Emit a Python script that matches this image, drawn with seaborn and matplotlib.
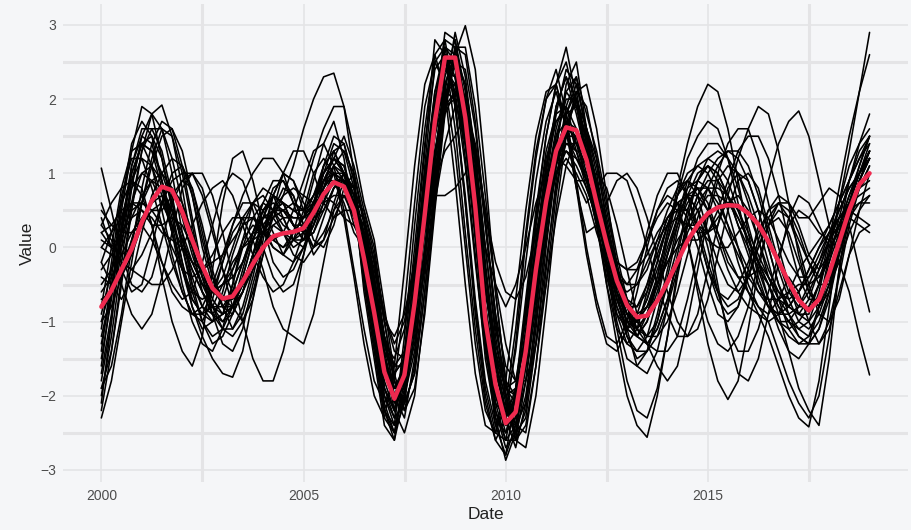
import numpy as np
import pandas as pd
import matplotlib
matplotlib.use("Agg")
import matplotlib.pyplot as plt
import matplotlib.dates as mdates
import seaborn as sns

# Quarterly observation dates
dates = pd.date_range("2000-01-01", "2019-01-01", freq="QS")

# Individual series (one value per quarter)
s01 = [-2.0, -1.2, -0.2, 0.8, 1.5, 1.8, 1.6, 1.0, 0.2, -0.5, -1.0, -1.3, -1.2, -0.9, -0.4, 0.1, 0.5, 0.7, 0.6, 0.3,
       0.2, 0.5, 1.0, 1.4, 1.3, 0.8, -0.3, -1.1, -2.0, -2.4, -2.0, -0.9, 0.6, 1.9, 2.8, 2.7, 1.8, 0.4, -1.2, -2.2,
       -2.7, -2.5, -1.6, -0.4, 0.8, 1.6, 2.1, 1.9, 1.5, 0.7, -0.2, -1.0, -1.5, -1.6, -1.4, -0.9, -0.3, 0.3, 0.8, 1.2,
       1.4, 1.4, 1.2, 0.8, 0.3, -0.2, -0.7, -1.1, -1.4, -1.5, -1.3, -0.8, -0.1, 0.6, 1.3, 2.1, 2.9]
s02 = [-1.6, -0.6, 0.5, 1.3, 1.9, 1.8, 1.2, 0.5, -0.2, -0.8, -1.1, -1.0, -0.6, -0.1, 0.3, 0.6, 0.7, 0.5, 0.3, 0.2,
       0.4, 0.9, 1.4, 1.7, 1.2, 0.4, 0.2, -0.9, -2.2, -2.4, -1.2, 0.3, 1.6, 2.6, 2.8, 2.0, 0.6, -0.9, -2.0, -2.6,
       -2.3, -1.3, 0.1, 1.2, 2.0, 2.4, 1.8, 0.9, 0.6, 0.8, 1.0, 1.0, 0.9, 0.5, 0.0, -0.5, -0.9, -1.2, -1.2, -0.9,
       -0.3, 0.3, 0.8, 1.0, 0.9, 0.5, 0.0, -0.5, -0.8, -0.9, -0.7, -0.3, 0.1, 0.4, 0.6, 0.7, 0.8]
s03 = [-2.3, -1.8, -1.0, -0.2, 0.6, 1.2, 1.6, 1.5, 1.0, 0.3, -0.4, -0.9, -1.3, -1.4, -1.1, -0.5, 0.0, 0.4, 0.5, 0.6,
       0.5, 0.6, 0.9, 1.2, 1.5, 1.1, 0.5, 0.0, -1.0, -1.8, -2.2, -1.6, -0.4, 0.9, 2.1, 2.9, 2.3, 1.2, -0.2, -1.4,
       -2.1, -2.6, -2.2, -1.1, 0.2, 1.3, 2.2, 2.5, 1.6, 1.1, 0.4, -0.3, -0.8, -1.1, -1.3, -1.4, -1.4, -1.2, -0.7, -0.1,
       0.5, 1.0, 1.4, 1.6, 1.6, 1.2, 0.6, 0.0, -0.5, -0.9, -1.0, -0.8, -0.4, 0.1, 0.6, 1.0, 1.4]
s04 = [0.1, 0.0, 0.2, 0.4, 0.5, 0.4, 0.2, 0.1, 0.0, -0.2, -0.3, -0.2, -0.1, 0.1, 0.3, 0.4, 0.3, 0.1, 0.0, 0.2,
       0.4, 0.6, 0.7, 0.6, 0.4, 0.3, 0.1, -0.6, -1.4, -1.7, -1.5, -0.7, 0.3, 1.3, 2.1, 2.2, 1.5, 0.5, -0.8, -1.6,
       -2.0, -1.9, -1.2, -0.3, 0.6, 1.2, 1.4, 1.3, 0.8, 0.4, 0.1, -0.2, -0.3, -0.3, -0.1, 0.2, 0.4, 0.5, 0.5, 0.3,
       0.1, 0.0, 0.0, 0.2, 0.4, 0.5, 0.4, 0.1, -0.2, -0.4, -0.4, -0.2, 0.1, 0.3, 0.4, 0.3, 0.2]
s05 = [1.07, 0.5, -0.1, -0.5, -0.6, -0.4, 0.1, 0.6, 0.9, 0.8, 0.3, -0.3, -0.8, -1.1, -0.9, -0.4, 0.2, 0.7, 1.0, 0.9,
       0.5, 0.1, 0.0, 0.3, 0.8, 1.0, 0.3, -0.3, -1.0, -1.2, -0.9, -0.2, 0.8, 1.8, 2.4, 2.3, 1.6, 0.7, -0.5, -1.4,
       -1.9, -2.0, -1.5, -0.6, 0.4, 1.1, 1.5, 1.5, 0.9, 0.5, 0.1, -0.3, -0.5, -0.5, -0.3, 0.1, 0.5, 0.8, 0.9, 0.7,
       0.2, -0.5, -1.2, -1.7, -1.8, -1.5, -0.9, -0.2, 0.4, 0.7, 0.6, 0.3, 0.0, 0.2, 0.5, 0.8, 1.0]
s06 = [0.4, 0.0, -0.5, -0.9, -1.1, -0.9, -0.4, 0.2, 0.8, 1.0, 0.8, 0.3, -0.3, -0.8, -1.0, -0.7, -0.1, 0.5, 0.8, 0.7,
       0.3, -0.1, 0.1, 0.6, 1.0, 0.8, 0.4, -0.2, -0.9, -1.3, -1.0, -0.2, 0.5, 0.7, 0.7, 0.8, 1.0, 1.4, 0.3, -0.9,
       -1.6, -1.8, -1.0, 0.1, 0.9, 1.4, 1.5, 1.2, 1.0, 0.3, -0.5, -1.1, -1.3, -1.1, -0.6, 0.0, 0.4, 0.6, 0.4, 0.0,
       -0.5, -0.9, -1.0, -0.8, -0.3, 0.3, 0.9, 1.4, 1.7, 1.84, 1.5, 0.9, 0.3, -0.2, -0.6, -1.2, -1.72]
s07 = [-0.5, -0.3, 0.0, 0.4, 0.7, 0.9, 0.8, 0.5, 0.1, -0.2, -0.5, -0.6, -0.5, -0.3, 0.0, 0.2, 0.2, 0.1, 0.0, 0.1,
       0.3, 0.5, 0.8, 1.0, 0.9, 0.5, -0.2, -0.9, -1.7, -2.1, -1.8, -0.8, 0.5, 1.7, 2.5, 2.5, 1.7, 0.5, -1.0, -1.9,
       -2.4, -2.2, -1.4, -0.2, 0.7, 1.3, 1.6, 1.5, 1.0, 0.4, -0.2, -0.7, -1.0, -1.1, -0.9, -0.5, -0.1, 0.3, 0.6, 0.8,
       0.8, 0.6, 0.3, 0.0, -0.3, -0.6, -0.8, -0.9, -0.9, -0.8, -0.6, -0.3, 0.1, 0.5, 0.8, 1.0, 1.2]
s08 = [-0.3, -0.1, 0.2, 0.5, 0.6, 0.5, 0.5, 0.7, 0.9, 1.0, 1.0, 0.7, 0.2, -0.4, -1.0, -1.5, -1.8, -1.8, -1.4, -0.8,
       -0.1, 0.6, 1.1, 1.3, 1.0, 0.4, -0.1, -1.0, -1.9, -2.2, -1.5, -0.3, 1.0, 2.1, 2.5, 2.1, 1.1, -0.2, -1.4, -2.1,
       -2.3, -1.9, -0.9, 0.3, 1.3, 1.8, 1.9, 1.4, 1.1, 0.6, 0.0, -0.4, -0.5, -0.3, 0.1, 0.5, 0.7, 0.6, 0.1, -0.6,
       -1.3, -1.8, -2.05, -1.8, -1.1, -0.3, 0.3, 0.6, 0.6, 0.3, -0.1, -0.3, -0.1, 0.3, 0.7, 1.1, 1.5]
s09 = [-0.2, 0.2, 0.6, 0.9, 0.8, 0.3, -0.4, -1.0, -1.4, -1.6, -1.2, -0.3, 0.6, 1.2, 1.3, 0.9, 0.3, -0.2, -0.4, -0.3,
       0.0, 0.4, 0.9, 1.2, 1.0, 0.5, 0.3, -0.4, -1.3, -1.9, -1.9, -1.3, -0.2, 1.0, 2.0, 2.5, 2.2, 1.3, 0.0, -1.2,
       -2.0, -2.4, -2.1, -1.3, -0.2, 0.8, 1.6, 2.0, 1.6, 1.2, 0.5, -0.2, -0.8, -1.2, -1.3, -1.1, -0.7, -0.2, 0.3, 0.7,
       1.0, 1.2, 1.3, 1.2, 0.9, 0.5, 0.0, -0.5, -0.9, -1.2, -1.3, -1.3, -1.1, -0.6, -0.1, 0.2, 0.3]
s10 = [-1.3, -0.6, 0.3, 1.0, 1.4, 1.3, 0.8, 0.2, -0.3, -0.8, -1.2, -1.5, -1.7, -1.75, -1.4, -0.7, 0.1, 0.7, 1.0, 0.9,
       0.6, 0.4, 0.5, 0.8, 1.0, 0.7, -0.6, -1.5, -2.4, -2.6, -1.6, -0.2, 1.3, 2.8, 2.6, 1.6, 0.2, -1.1, -2.1, -2.6,
       -2.8, -2.0, -0.8, 0.4, 1.5, 2.2, 2.7, 2.0, 1.3, 0.7, 0.0, -0.6, -1.0, -1.0, -0.7, -0.2, 0.3, 0.7, 0.9, 0.8,
       0.5, 0.1, -0.3, -0.6, -0.8, -0.9, -1.2, -1.6, -2.0, -2.3, -2.42, -1.8, -0.8, 0.2, 0.9, 1.3, 1.5]
s11 = [-1.0, -0.5, 0.1, 0.6, 1.0, 1.1, 0.9, 0.4, -0.2, -0.7, -0.9, -0.8, -0.5, -0.2, 0.0, 0.1, 0.2, 0.4, 0.7, 1.1,
       1.6, 2.0, 2.3, 2.35, 1.9, 1.0, -0.3, -1.0, -1.8, -2.2, -1.7, -0.6, 0.7, 1.8, 2.4, 2.3, 1.5, 0.3, -1.1, -2.0,
       -2.5, -2.3, -1.3, 0.0, 0.9, 1.5, 1.7, 1.4, 1.4, 0.8, 0.1, -0.5, -0.9, -1.0, -0.8, -0.4, 0.2, 0.8, 1.4, 1.9,
       2.2, 2.1, 1.6, 0.9, 0.2, -0.4, -0.8, -1.0, -1.0, -0.8, -0.5, -0.2, 0.2, 0.5, 0.8, 1.0, 1.2]
s12 = [-1.8, -1.0, 0.0, 0.9, 1.4, 1.5, 1.2, 0.6, 0.0, -0.5, -0.8, -0.9, -0.7, -0.3, 0.1, 0.3, 0.2, 0.0, -0.1, 0.2,
       0.7, 1.2, 1.6, 1.9, 1.9, 1.3, 0.6, 0.1, -0.8, -1.7, -2.2, -1.9, -0.9, 0.5, 1.8, 2.6, 2.99, 2.4, 1.0, -0.6,
       -1.8, -2.4, -2.5, -1.6, -0.3, 0.9, 1.8, 2.2, 1.6, 0.8, 0.0, -0.6, -0.9, -1.0, -0.8, -0.5, -0.2, 0.1, 0.3, 0.3,
       0.2, 0.3, 0.7, 1.2, 1.6, 1.9, 1.8, 1.3, 0.6, -0.1, -0.6, -0.8, -0.5, 0.1, 0.6, 1.0, 1.3]
s13 = [0.3, 0.1, -0.2, -0.3, -0.1, 0.2, 0.6, 0.9, 1.0, 1.0, 0.7, 0.2, -0.3, -0.6, -0.5, -0.1, 0.4, 0.8, 0.9, 0.7,
       0.3, 0.0, 0.1, 0.4, 0.7, 0.6, 0.0, -0.7, -1.5, -1.9, -1.6, -0.6, 0.6, 1.6, 2.2, 2.2, 1.6, 0.8, 0.0, -0.5,
       -0.8, -0.5, 0.0, 0.6, 1.0, 1.2, 1.1, 0.9, 0.9, 0.3, -0.4, -0.9, -1.1, -0.9, -0.5, 0.0, 0.4, 0.6, 0.5, 0.2,
       -0.3, -0.7, -0.9, -0.8, -0.4, 0.1, 0.5, 0.7, 0.6, 0.4, 0.4, 0.6, 0.8, 0.7, 0.3, -0.3, -0.87]
s14 = [-1.4, -0.4, 0.6, 1.4, 1.7, 1.5, 0.9, 0.3, -0.3, -0.7, -0.9, -1.0, -0.9, -0.6, -0.2, 0.2, 0.5, 0.6, 0.5, 0.3,
       0.1, 0.3, 0.8, 1.3, 1.4, 0.9, -0.4, -1.3, -2.2, -2.6, -2.0, -0.7, 0.7, 1.9, 2.6, 2.4, 1.4, 0.1, -1.3, -2.3,
       -2.87, -2.5, -1.5, -0.2, 1.0, 1.9, 2.3, 2.0, 1.2, 0.4, -0.5, -1.3, -2.0, -2.4, -2.56, -2.0, -1.2, -0.3, 0.4, 0.9,
       1.1, 1.0, 0.7, 0.3, 0.0, -0.2, -0.4, -0.6, -0.8, -0.9, -0.9, -0.5, 0.1, 0.8, 1.5, 2.1, 2.6]
s15 = [0.0, 0.2, 0.4, 0.6, 0.6, 0.5, 0.3, 0.0, -0.3, -0.4, -0.3, -0.1, 0.2, 0.4, 0.4, 0.1, -0.3, -0.8, -1.1, -1.2,
       -1.3, -0.9, -0.2, 0.5, 0.9, 0.8, 0.2, -0.4, -1.2, -1.6, -1.6, -1.0, 0.0, 1.0, 1.8, 2.1, 1.8, 0.9, -0.3, -1.3,
       -1.9, -2.1, -1.6, -0.7, 0.3, 1.0, 1.4, 1.4, 0.9, 1.0, 0.8, 0.3, -0.3, -0.9, -1.3, -1.6, -1.8, -1.6, -1.0, -0.3,
       0.4, 0.9, 1.1, 1.0, 0.6, 0.1, -0.4, -0.7, -0.8, -0.6, -0.3, 0.0, 0.2, 0.4, 0.5, 0.6, 0.6]
s16 = [-0.6, -0.4, -0.1, 0.2, 0.3, 0.1, -0.2, -0.5, -0.7, -0.6, -0.2, 0.3, 0.8, 1.0, 0.9, 0.5, 0.0, -0.4, -0.6, -0.5,
       -0.1, 0.4, 0.9, 1.1, 0.9, 0.4, 0.1, -0.6, -1.3, -1.5, -1.1, -0.3, 0.6, 1.5, 2.1, 2.0, 1.4, 0.4, -0.8, -1.7,
       -2.2, -2.1, -1.4, -0.4, 0.6, 1.2, 1.5, 1.3, 1.3, 0.7, 0.1, -0.5, -0.9, -1.2, -1.3, -1.1, -0.7, -0.2, 0.3, 0.6,
       0.8, 0.8, 0.7, 0.5, 0.2, -0.1, -0.4, -0.7, -0.9, -1.1, -1.2, -1.0, -0.6, 0.0, 0.5, 0.9, 1.2]
s17 = [-1.9, -1.4, -0.5, 0.5, 1.3, 1.8, 1.92, 1.5, 0.8, 0.0, -0.6, -0.9, -1.0, -0.8, -0.5, -0.1, 0.3, 0.5, 0.5, 0.4,
       0.4, 0.7, 1.1, 1.3, 1.0, 0.5, -0.4, -1.3, -2.2, -2.5, -1.9, -0.7, 0.8, 2.1, 2.7, 2.5, 1.6, 0.2, -1.3, -2.4,
       -2.8, -2.4, -1.3, 0.0, 1.1, 1.9, 2.3, 1.8, 1.2, 0.6, -0.1, -0.7, -1.1, -1.2, -1.0, -0.6, -0.1, 0.4, 0.7, 0.8,
       0.6, 0.2, -0.2, -0.4, -0.4, -0.3, -0.5, -0.9, -1.4, -1.9, -2.2, -2.4, -1.5, -0.3, 0.6, 1.1, 1.5]
s18 = [-2.1, -1.0, 0.2, 1.1, 1.6, 1.6, 1.3, 0.7, 0.0, -0.6, -1.0, -1.2, -1.1, -0.8, -0.3, 0.2, 0.6, 0.9, 0.9, 0.6,
       0.5, 0.7, 1.0, 1.2, 1.0, 0.6, 0.0, -0.8, -1.7, -2.0, -1.6, -0.6, 0.7, 1.9, 2.4, 2.2, 1.4, 0.2, -1.2, -2.0,
       -2.3, -2.0, -1.1, 0.1, 1.1, 1.7, 1.9, 1.6, 1.3, 0.6, -0.2, -0.9, -1.3, -1.4, -1.2, -0.7, -0.1, 0.4, 0.9, 1.1,
       1.2, 1.1, 0.9, 0.5, 0.1, -0.3, -0.7, -1.0, -1.2, -1.3, -1.2, -0.8, -0.2, 0.4, 0.9, 1.4, 1.8]
s19 = [-0.9, -0.3, 0.4, 0.9, 1.2, 1.1, 0.7, 0.2, -0.3, -0.6, -0.7, -0.6, -0.5, -0.4, -0.2, 0.1, 0.4, 0.5, 0.4, 0.1,
       0.0, 0.3, 0.6, 0.9, 0.8, 0.3, 0.0, -0.7, -1.5, -1.9, -1.7, -0.9, 0.2, 1.2, 1.9, 2.0, 1.4, 0.6, -0.6, -1.5,
       -1.9, -1.8, -1.3, -0.5, 0.4, 1.0, 1.3, 1.2, 0.9, 0.3, -0.3, -0.8, -1.1, -1.0, -0.7, -0.3, 0.1, 0.5, 0.8, 0.9,
       0.8, 0.5, 0.2, -0.1, -0.4, -0.6, -0.7, -0.7, -0.6, -0.5, -0.5, -0.4, -0.1, 0.3, 0.6, 0.8, 0.9]
s20 = [0.5, 0.3, 0.2, 0.2, 0.4, 0.6, 0.8, 0.8, 0.6, 0.2, -0.3, -0.7, -0.9, -0.8, -0.4, 0.1, 0.5, 0.7, 0.6, 0.3,
       0.1, 0.2, 0.5, 0.8, 0.9, 0.6, 0.2, -0.5, -1.2, -1.6, -1.4, -0.7, 0.2, 0.9, 1.3, 1.5, 1.78, 1.2, 0.0, -1.1,
       -1.8, -2.0, -1.4, -0.4, 0.5, 1.0, 1.2, 1.0, 0.7, 0.2, -0.2, -0.5, -0.6, -0.5, -0.2, 0.1, 0.3, 0.4, 0.3, 0.2,
       0.2, 0.4, 0.6, 0.7, 0.5, 0.1, -0.3, -0.6, -0.7, -0.6, -0.4, -0.1, 0.2, 0.4, 0.5, 0.4, 0.3]
s21 = [-1.5, -0.7, 0.3, 1.1, 1.5, 1.4, 0.9, 0.2, -0.5, -1.0, -1.3, -1.4, -1.1, -0.5, 0.1, 0.6, 0.8, 0.7, 0.4, 0.1,
       0.1, 0.5, 1.1, 1.5, 1.4, 0.9, -0.3, -1.2, -2.1, -2.5, -2.1, -0.8, 0.5, 1.8, 2.7, 2.6, 1.6, 0.2, -1.3, -2.2,
       -2.6, -2.4, -1.6, -0.3, 0.9, 1.8, 2.4, 2.2, 1.6, 1.0, 0.2, -0.5, -1.0, -1.2, -1.0, -0.5, 0.1, 0.7, 1.2, 1.5,
       1.7, 1.6, 1.2, 0.6, 0.0, -0.5, -0.8, -0.9, -0.8, -0.6, -0.3, 0.0, 0.3, 0.6, 0.9, 1.2, 1.5]
s22 = [-0.2, -0.5, -0.7, -0.4, 0.2, 0.7, 1.0, 1.2, 1.1, 0.7, 0.1, -0.4, -0.7, -0.8, -0.6, -0.2, 0.2, 0.5, 0.6, 0.5,
       0.5, 0.7, 0.9, 0.9, 0.6, 0.2, 0.0, -1.0, -1.9, -2.2, -1.4, 0.0, 1.4, 2.4, 2.6, 1.9, 0.7, -0.7, -1.8, -2.4,
       -2.2, -1.4, -0.2, 0.9, 1.7, 2.1, 1.6, 0.8, 0.2, 0.3, 0.6, 0.9, 1.0, 0.8, 0.4, -0.1, -0.6, -1.0, -1.2, -1.1,
       -0.7, -0.1, 0.5, 0.9, 1.0, 0.8, 0.3, -0.2, -0.6, -0.8, -0.8, -0.5, -0.1, 0.3, 0.6, 0.8, 1.0]
s23 = [-2.2, -1.4, -0.4, 0.6, 1.3, 1.6, 1.6, 1.2, 0.6, 0.0, -0.4, -0.6, -0.7, -0.7, -0.5, -0.2, 0.2, 0.5, 0.6, 0.5,
       0.4, 0.6, 1.0, 1.2, 1.1, 0.6, -0.5, -1.4, -2.3, -2.5, -1.8, -0.4, 1.1, 2.5, 2.7, 1.9, 0.6, -0.8, -1.9, -2.5,
       -2.6, -1.9, -0.7, 0.5, 1.5, 2.2, 2.5, 1.9, 1.2, 0.5, -0.2, -0.8, -1.2, -1.4, -1.4, -1.2, -0.8, -0.3, 0.2, 0.5,
       0.7, 0.7, 0.6, 0.4, 0.1, -0.2, -0.5, -0.8, -1.0, -1.2, -1.3, -1.1, -0.7, -0.1, 0.4, 0.9, 1.3]
s24 = [0.2, 0.3, 0.5, 0.6, 0.5, 0.3, 0.3, 0.4, 0.3, 0.0, -0.4, -0.8, -1.0, -0.9, -0.6, -0.2, 0.2, 0.5, 0.7, 0.8,
       0.7, 0.6, 0.6, 0.7, 0.7, 0.4, 0.2, -0.5, -1.3, -1.7, -1.5, -0.8, 0.3, 1.3, 1.9, 2.1, 1.9, 1.3, 0.5, -0.2,
       -0.6, -0.7, -0.4, 0.2, 0.8, 1.2, 1.3, 1.1, 0.8, 0.4, 0.1, -0.2, -0.3, -0.2, 0.1, 0.4, 0.6, 0.5, 0.1, -0.5,
       -1.0, -1.3, -1.4, -1.2, -0.8, -0.2, 0.3, 0.5, 0.4, 0.1, -0.2, -0.4, -0.2, 0.2, 0.6, 1.0, 1.3]
s25 = [-1.2, -0.6, 0.2, 0.8, 1.0, 0.9, 0.6, 0.3, 0.0, -0.3, -0.6, -0.9, -1.1, -1.2, -1.0, -0.6, -0.1, 0.5, 1.0, 1.3,
       1.3, 1.0, 0.6, 0.4, 0.5, 0.5, 0.4, -0.2, -1.2, -2.0, -2.3, -1.5, -0.1, 1.2, 2.3, 2.8, 2.1, 0.9, -0.5, -1.6,
       -2.3, -2.7, -2.1, -0.9, 0.4, 1.4, 2.1, 2.3, 1.8, 1.3, 0.6, -0.1, -0.7, -1.1, -1.2, -1.0, -0.5, 0.0, 0.5, 0.9,
       1.2, 1.3, 1.2, 1.0, 0.7, 0.3, -0.2, -0.7, -1.1, -1.3, -1.3, -1.1, -0.6, 0.0, 0.4, 0.6, 0.7]
s26 = [-0.7, -0.6, -0.3, 0.1, 0.6, 1.1, 1.5, 1.6, 1.3, 0.7, 0.0, -0.5, -0.8, -0.8, -0.6, -0.3, 0.0, 0.3, 0.4, 0.4,
       0.4, 0.5, 0.7, 0.9, 0.9, 0.6, 0.2, -0.5, -1.4, -2.0, -2.0, -1.2, 0.0, 1.2, 2.2, 2.6, 2.0, 1.0, -0.3, -1.5,
       -2.2, -2.5, -2.0, -1.0, 0.1, 1.1, 1.8, 2.1, 1.4, 0.8, 0.1, -0.5, -0.9, -1.1, -0.9, -0.5, 0.0, 0.4, 0.7, 0.7,
       0.5, 0.2, -0.1, -0.4, -0.6, -0.8, -1.0, -1.4, -1.8, -2.1, -2.3, -2.0, -1.2, -0.3, 0.4, 0.9, 1.2]
s27 = [0.0, -0.1, -0.2, -0.3, -0.4, -0.5, -0.5, -0.3, 0.0, 0.3, 0.6, 0.8, 0.9, 0.7, 0.3, -0.1, -0.4, -0.6, -0.5, -0.2,
       0.2, 0.6, 0.9, 1.0, 0.8, 0.5, -0.1, -0.8, -1.6, -2.0, -1.9, -1.0, 0.3, 1.5, 2.4, 2.6, 1.9, 0.7, -0.8, -1.8,
       -2.4, -2.3, -1.6, -0.5, 0.6, 1.3, 1.7, 1.6, 1.2, 0.6, 0.0, -0.5, -0.8, -0.8, -0.5, -0.1, 0.3, 0.6, 0.7, 0.5,
       0.0, -0.6, -1.1, -1.4, -1.4, -1.1, -0.6, -0.1, 0.3, 0.5, 0.4, 0.2, 0.1, 0.3, 0.6, 1.0, 1.3]
s28 = [-1.7, -0.9, 0.2, 1.0, 1.4, 1.3, 1.0, 0.6, 0.1, -0.3, -0.6, -0.8, -0.8, -0.6, -0.2, 0.2, 0.4, 0.4, 0.2, 0.0,
       0.1, 0.4, 0.8, 1.1, 1.0, 0.5, -0.2, -1.0, -1.9, -2.3, -2.1, -1.1, 0.4, 1.8, 2.9, 2.8, 1.9, 0.6, -1.0, -2.1,
       -2.6, -2.6, -1.8, -0.6, 0.6, 1.5, 2.0, 2.0, 1.4, 0.6, -0.3, -1.1, -1.8, -2.2, -2.3, -1.9, -1.2, -0.4, 0.3, 0.7,
       0.9, 0.9, 0.7, 0.4, 0.1, -0.2, -0.5, -0.8, -1.0, -1.1, -1.0, -0.6, 0.0, 0.6, 1.1, 1.4, 1.6]
s29 = [0.3, 0.6, 0.8, 0.9, 0.7, 0.3, -0.2, -0.6, -0.8, -0.9, -0.8, -0.5, -0.1, 0.3, 0.7, 1.0, 1.2, 1.2, 1.0, 0.6,
       0.2, 0.0, 0.2, 0.5, 0.7, 0.6, 0.5, -0.1, -1.0, -1.8, -2.1, -1.7, -0.6, 0.8, 2.0, 2.7, 2.6, 1.7, 0.3, -1.0,
       -2.0, -2.5, -2.3, -1.3, 0.0, 1.1, 1.9, 2.3, 1.5, 0.9, 0.2, -0.4, -0.8, -0.9, -0.8, -0.5, -0.2, 0.0, 0.1, 0.1,
       0.2, 0.5, 0.9, 1.3, 1.5, 1.5, 1.2, 0.7, 0.1, -0.4, -0.7, -0.7, -0.4, 0.1, 0.5, 0.8, 1.0]
s30 = [-1.0, -0.8, -0.4, 0.1, 0.6, 0.9, 1.0, 0.8, 0.4, -0.1, -0.5, -0.8, -0.9, -0.8, -0.5, -0.1, 0.2, 0.3, 0.2, 0.1,
       0.2, 0.5, 0.8, 1.0, 0.9, 0.6, -0.2, -1.1, -2.0, -2.3, -1.7, -0.5, 0.9, 2.0, 2.6, 2.3, 1.2, -0.1, -1.5, -2.3,
       -2.5, -2.0, -0.9, 0.3, 1.2, 1.7, 1.8, 1.3, 0.9, 0.6, 0.2, -0.3, -0.7, -1.0, -1.2, -1.2, -1.0, -0.6, -0.1, 0.4,
       0.8, 1.1, 1.3, 1.3, 1.1, 0.7, 0.2, -0.3, -0.7, -1.0, -1.1, -0.9, -0.5, 0.0, 0.5, 0.9, 1.2]
s31 = [0.6, 0.2, -0.3, -0.6, -0.5, 0.0, 0.6, 1.0, 1.1, 0.8, 0.2, -0.4, -0.8, -0.9, -0.6, -0.1, 0.4, 0.7, 0.6, 0.3,
       0.1, 0.2, 0.6, 1.1, 1.3, 1.0, 0.4, -0.4, -1.2, -1.8, -2.1, -1.7, -0.6, 0.7, 1.9, 2.5, 2.4, 1.6, 0.4, -0.9,
       -2.0, -2.6, -2.4, -1.6, -0.5, 0.7, 1.6, 2.1, 1.9, 1.2, 0.3, -0.6, -1.2, -1.5, -1.4, -1.0, -0.4, 0.2, 0.7, 1.0,
       1.1, 0.9, 0.5, 0.0, -0.5, -0.8, -0.9, -0.7, -0.4, -0.6, -1.0, -1.3, -1.0, -0.4, 0.3, 0.8, 1.1]
s32 = [-1.1, -0.2, 0.7, 1.2, 1.2, 0.8, 0.3, -0.2, -0.6, -0.9, -1.0, -0.7, -0.2, 0.3, 0.6, 0.6, 0.3, 0.0, -0.1, 0.1,
       0.5, 1.0, 1.2, 1.0, 0.4, -0.4, -1.3, -2.0, -2.3, -1.6, -0.3, 1.1, 2.2, 2.6, 2.1, 0.9, -0.5, -1.7, -2.4, -2.5,
       -1.8, -0.7, 0.5, 1.5, 2.1, 2.2, 1.6, 0.8, -0.1, -0.8, -1.3, -1.4, -1.1, -0.6, 0.0, 0.5, 0.8, 0.9, 0.7, 0.3,
       -0.2, -0.6, -0.8, -0.7, -0.4, 0.0, 0.3, 0.4, 0.2, -0.2, -0.6, -0.8, -0.6, -0.1, 0.4, 0.8, 1.1]
s33 = [-0.4, -0.5, -0.4, -0.1, 0.3, 0.6, 0.7, 0.5, 0.1, -0.4, -0.8, -1.0, -0.9, -0.5, 0.0, 0.4, 0.6, 0.5, 0.2, -0.1,
       -0.2, 0.0, 0.4, 0.8, 1.0, 0.8, 0.4, -0.2, -0.9, -1.4, -1.5, -1.1, -0.3, 0.6, 1.4, 1.9, 1.9, 1.4, 0.5, -0.5,
       -1.3, -1.8, -1.8, -1.3, -0.5, 0.4, 1.1, 1.5, 1.4, 0.9, 0.3, -0.3, -0.7, -0.8, -0.6, -0.2, 0.3, 0.6, 0.7, 0.5,
       0.2, -0.2, -0.5, -0.6, -0.4, 0.0, 0.4, 0.6, 0.5, 0.2, -0.2, -0.5, -0.5, -0.2, 0.2, 0.5, 0.7]
s34 = [-1.9, -1.6, -0.9, 0.0, 0.8, 1.4, 1.7, 1.6, 1.1, 0.4, -0.3, -0.8, -1.1, -1.1, -0.8, -0.3, 0.2, 0.5, 0.5, 0.3,
       0.3, 0.6, 1.0, 1.2, 1.1, 0.7, 0.1, -0.6, -1.5, -2.2, -2.5, -2.0, -0.8, 0.6, 1.9, 2.7, 2.7, 1.9, 0.7, -0.6,
       -1.8, -2.6, -2.7, -2.0, -0.8, 0.5, 1.5, 2.1, 2.2, 1.6, 0.7, -0.3, -1.1, -1.6, -1.7, -1.4, -0.8, -0.1, 0.5, 0.9,
       1.1, 1.0, 0.7, 0.3, -0.1, -0.5, -0.8, -1.0, -1.1, -1.0, -0.8, -0.5, -0.1, 0.3, 0.7, 1.0, 1.3]
s35 = [-0.8, 0.0, 0.8, 1.3, 1.4, 1.1, 0.5, -0.1, -0.6, -0.9, -0.9, -0.6, -0.2, 0.2, 0.4, 0.4, 0.2, 0.1, 0.2, 0.5,
       0.9, 1.3, 1.4, 1.1, 0.5, -0.3, -1.1, -1.8, -2.1, -1.8, -0.8, 0.6, 1.9, 2.5, 2.2, 1.3, 0.0, -1.3, -2.2, -2.5,
       -2.1, -1.1, 0.2, 1.3, 2.0, 2.2, 1.7, 0.9, 0.0, -0.7, -1.2, -1.3, -1.0, -0.4, 0.2, 0.7, 1.0, 1.0, 0.7, 0.2,
       -0.3, -0.6, -0.7, -0.5, -0.2, 0.2, 0.5, 0.6, 0.4, 0.0, -0.5, -0.9, -1.0, -0.7, -0.1, 0.5, 1.0]
s36 = [0.2, 0.0, -0.1, 0.0, 0.3, 0.5, 0.6, 0.5, 0.2, -0.2, -0.5, -0.6, -0.4, 0.0, 0.4, 0.6, 0.5, 0.2, -0.1, -0.2,
       0.0, 0.3, 0.7, 1.0, 1.0, 0.7, 0.1, -0.7, -1.5, -2.0, -2.0, -1.4, -0.2, 1.1, 2.2, 2.6, 2.2, 1.1, -0.3, -1.5,
       -2.3, -2.4, -1.8, -0.8, 0.3, 1.2, 1.8, 1.9, 1.5, 0.8, 0.0, -0.7, -1.1, -1.2, -0.9, -0.4, 0.2, 0.7, 1.0, 1.1,
       1.0, 0.7, 0.3, -0.2, -0.6, -0.9, -1.0, -0.9, -0.6, -0.3, -0.1, 0.1, 0.3, 0.6, 0.9, 1.2, 1.4]

# Average across series
mean_line = [-0.80, -0.58, -0.30, -0.02, 0.34, 0.63, 0.82, 0.77, 0.48, 0.10, -0.25, -0.55,
             -0.69, -0.66, -0.46, -0.22, 0.00, 0.15, 0.19, 0.21, 0.26, 0.47, 0.72, 0.88,
             0.82, 0.50, -0.15, -0.88, -1.68, -2.04, -1.72, -0.75, 0.45, 1.70, 2.56, 2.56,
             1.75, 0.55, -0.98, -1.85, -2.37, -2.22, -1.40, -0.30, 0.62, 1.30, 1.62, 1.58,
             1.18, 0.60, 0.05, -0.45, -0.78, -0.94, -0.92, -0.72, -0.47, -0.19, 0.09, 0.30,
             0.46, 0.54, 0.57, 0.56, 0.46, 0.31, 0.08, -0.19, -0.47, -0.71, -0.85, -0.70,
             -0.35, 0.07, 0.50, 0.85, 1.00]

series = [s01, s02, s03, s04, s05, s06, s07, s08, s09, s10,
          s11, s12, s13, s14, s15, s16, s17, s18, s19, s20,
          s21, s22, s23, s24, s25, s26, s27, s28, s29, s30,
          s31, s32, s33, s34, s35, s36]

long = pd.concat(
    [pd.DataFrame({"Date": dates, "Value": vals, "id": i}) for i, vals in enumerate(series)],
    ignore_index=True,
)
avg = pd.DataFrame({"Date": dates, "Value": mean_line})

BG = "#f5f6f8"
GRID = "#e4e4e6"

sns.set_theme(style="white")
plt.rcParams["font.family"] = ["Liberation Sans", "DejaVu Sans"]

fig = plt.figure(figsize=(9.12, 5.30), dpi=100, facecolor=BG)
ax = fig.add_axes([0.069, 0.0906, 0.9266, 0.9019])
ax.set_facecolor(BG)

sns.lineplot(data=long, x="Date", y="Value", units="id", estimator=None,
             color="black", linewidth=1.15, ax=ax, zorder=2)
sns.lineplot(data=avg, x="Date", y="Value", color="#ef2a4f", linewidth=3.2,
             ax=ax, zorder=3)

# Axis breaks: majors labelled, minors halfway between them
major_x = [pd.Timestamp(f"{y}-01-01") for y in (2000, 2005, 2010, 2015)]
major_xn = mdates.date2num(major_x)
minor_xn = [(a + b) / 2 for a, b in zip(major_xn[:-1], major_xn[1:])]
minor_xn.append(major_xn[-1] + (major_xn[1] - major_xn[0]) / 2)
ax.set_xticks(major_xn)
ax.set_xticklabels(["2000", "2005", "2010", "2015"])
ax.set_xticks(minor_xn, minor=True)

ax.set_yticks([-3, -2, -1, 0, 1, 2, 3])
ax.set_yticks([-2.5, -1.5, -0.5, 0.5, 1.5, 2.5], minor=True)

ax.set_axisbelow(True)
ax.grid(which="major", color=GRID, linewidth=1.2)
ax.grid(which="minor", color=GRID, linewidth=2.2)
for sp in ax.spines.values():
    sp.set_visible(False)

ax.tick_params(which="major", length=3, width=0.9, color="#333333",
               labelcolor="#4d4d4d", labelsize=10, pad=2)
ax.tick_params(which="minor", length=0)
ax.set_xlabel("Date", fontsize=12.5, color="#222222", labelpad=3)
ax.set_ylabel("Value", fontsize=12.5, color="#222222", labelpad=4)

fig.savefig("out.png", dpi=100, facecolor=BG)
